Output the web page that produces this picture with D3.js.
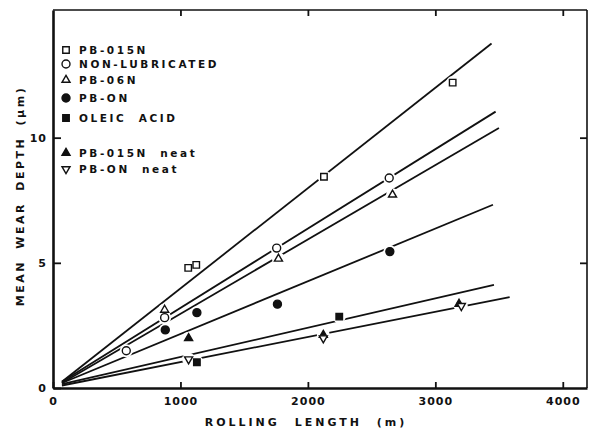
<!DOCTYPE html>
<html>
<head>
    <script src="https://d3js.org/d3.v7.min.js"></script>
    <style>
        body { margin: 0; background: #fff; }
        text { font-family: "DejaVu Sans", sans-serif; font-weight: bold; fill: #111; }
    </style>
</head>
<body>
    <div id="chart"></div>
    <script>
        // series labels, in legend order
        let seriesNames = ["PB-015N", "NON-LUBRICATED", "PB-06N", "PB-ON", "OLEIC ACID", "PB-015N neat", "PB-ON neat"];
        let seriesSymbols = ["square", "circle", "triangle", "circle", "square", "triangle", "triangleDown"];
        let seriesFilled = [false, false, false, true, true, true, false];

        // measured points: rolling length (m) and mean wear depth (um)
        let lengths = [
            [1061, 1124, 2126, 3136],
            [575, 876, 1755, 2638],
            [876, 1769, 2664],
            [881, 1129, 1761, 2643],
            [1129, 2246],
            [1064, 2121, 3186],
            [1064, 2121, 3204]
        ];
        let depths = [
            [4.8, 4.92, 8.44, 12.2],
            [1.49, 2.81, 5.59, 8.39],
            [3.12, 5.16, 7.72],
            [2.32, 3.01, 3.35, 5.45],
            [1.03, 2.85],
            [1.99, 2.12, 3.36],
            [1.15, 1.99, 3.28]
        ];

        // fitted lines: [start length, start depth, end length, end depth]
        let fitLines = [
            [70, 0.25, 3441, 13.76],
            [70, 0.25, 3473, 11.04],
            [70, 0.2, 3499, 10.39],
            [70, 0.2, 3452, 7.32],
            [70, 0.15, 3460, 4.12],
            [70, 0.1, 3583, 3.63]
        ];

        let xTicks = [0, 1000, 2000, 3000, 4000];
        let yTicks = [0, 5, 10];

        let width = 591, height = 430;
        let mLeft = 53, mRight = 587, mTop = 10, mBottom = 388;

        let x = d3.scaleLinear().domain([0, 4190]).range([mLeft, mRight]);
        let y = d3.scaleLinear().domain([0, 15.1]).range([mBottom, mTop]);

        let svg = d3.select("#chart").append("svg")
            .attr("width", width)
            .attr("height", height);

        // frame
        svg.append("line").attr("x1", mLeft).attr("x2", mRight).attr("y1", mTop).attr("y2", mTop)
            .attr("stroke", "#111").attr("stroke-width", 1.6);
        svg.append("line").attr("x1", mRight).attr("x2", mRight).attr("y1", mTop).attr("y2", mBottom)
            .attr("stroke", "#111").attr("stroke-width", 1.6);

        // bottom axis, ticks pointing inward
        svg.append("g")
            .attr("transform", `translate(0,${mBottom})`)
            .call(d3.axisBottom(x).tickValues(xTicks).tickFormat(d3.format("d")).tickSize(-6).tickPadding(9).tickSizeOuter(0))
            .call(g => g.select(".domain").attr("stroke-width", 2.6).attr("stroke", "#111"))
            .call(g => g.selectAll(".tick line").attr("stroke-width", 1.8).attr("stroke", "#111"))
            .call(g => g.selectAll(".tick text").attr("font-size", 11).attr("letter-spacing", 1).attr("font-family", null).attr("dy", "0.71em"));

        // top ticks
        svg.append("g")
            .attr("transform", `translate(0,${mTop})`)
            .call(d3.axisTop(x).tickValues(xTicks.slice(1)).tickSize(-6).tickFormat("").tickSizeOuter(0))
            .call(g => g.select(".domain").remove())
            .call(g => g.selectAll(".tick line").attr("stroke-width", 1.8).attr("stroke", "#111"));

        // left axis
        svg.append("g")
            .attr("transform", `translate(${mLeft},0)`)
            .call(d3.axisLeft(y).tickValues(yTicks).tickSize(-8).tickPadding(6).tickSizeOuter(0))
            .call(g => g.select(".domain").attr("stroke-width", 2.6).attr("stroke", "#111"))
            .call(g => g.selectAll(".tick line").attr("stroke-width", 1.8).attr("stroke", "#111"))
            .call(g => g.selectAll(".tick text").attr("font-size", 11).attr("letter-spacing", 1).attr("font-family", null));

        // right ticks
        svg.append("g")
            .attr("transform", `translate(${mRight},0)`)
            .call(d3.axisRight(y).tickValues(yTicks.slice(1)).tickSize(-7).tickFormat("").tickSizeOuter(0))
            .call(g => g.select(".domain").remove())
            .call(g => g.selectAll(".tick line").attr("stroke-width", 1.8).attr("stroke", "#111"));

        // axis titles
        svg.append("text")
            .attr("x", 306).attr("y", 426)
            .attr("text-anchor", "middle")
            .attr("font-size", 11)
            .attr("letter-spacing", 3)
            .attr("word-spacing", 8)
            .text("ROLLING LENGTH (m)");

        svg.append("text")
            .attr("transform", "translate(24,196) rotate(-90)")
            .attr("text-anchor", "middle")
            .attr("font-size", 11)
            .attr("letter-spacing", 2.5)
            .attr("word-spacing", 5)
            .text("MEAN WEAR DEPTH (\u03bcm)");

        // fitted lines
        svg.append("g")
            .selectAll("line")
            .data(fitLines)
            .join("line")
            .attr("x1", d => x(d[0]))
            .attr("y1", d => y(d[1]))
            .attr("x2", d => x(d[2]))
            .attr("y2", d => y(d[3]))
            .attr("stroke", "#111")
            .attr("stroke-width", 1.8);

        let symbolTypes = {
            square: d3.symbolSquare,
            circle: d3.symbolCircle,
            triangle: d3.symbolTriangle,
            triangleDown: d3.symbolTriangle
        };
        let symbolSizes = { square: 42, circle: 50, triangle: 28, triangleDown: 28 };

        function symbolPath(s) {
            return d3.symbol().type(symbolTypes[s]).size(symbolSizes[s])();
        }

        let points = [];
        lengths.forEach((xs, i) => {
            xs.forEach((v, j) => points.push({ s: i, x: v, y: depths[i][j] }));
        });

        // white gaps where lines meet the markers
        svg.append("g")
            .selectAll("circle")
            .data(points)
            .join("circle")
            .attr("cx", d => x(d.x))
            .attr("cy", d => y(d.y))
            .attr("r", 6.5)
            .attr("fill", "#fff");

        svg.append("g")
            .selectAll("path")
            .data(points)
            .join("path")
            .attr("transform", d => {
                let r = seriesSymbols[d.s] === "triangleDown" ? " rotate(180)" : "";
                return `translate(${x(d.x)},${y(d.y)})${r}`;
            })
            .attr("d", d => symbolPath(seriesSymbols[d.s]))
            .attr("fill", d => seriesFilled[d.s] ? "#111" : "#fff")
            .attr("stroke", "#111")
            .attr("stroke-width", 1.4);

        // legend
        let legendY = [50, 64, 80, 98, 118, 153, 169];
        let legend = svg.append("g")
            .selectAll("g")
            .data(seriesNames)
            .join("g")
            .attr("transform", (d, i) => `translate(66,${legendY[i]})`);

        legend.append("path")
            .attr("transform", (d, i) => seriesSymbols[i] === "triangleDown" ? "rotate(180)" : null)
            .attr("d", (d, i) => symbolPath(seriesSymbols[i]))
            .attr("fill", (d, i) => seriesFilled[i] ? "#111" : "#fff")
            .attr("stroke", "#111")
            .attr("stroke-width", 1.4);

        legend.append("text")
            .attr("x", 13)
            .attr("dy", "0.38em")
            .attr("font-size", 10.5)
            .attr("letter-spacing", 2.6)
            .attr("word-spacing", 6)
            .text(d => d);
    </script>
</body>
</html>
